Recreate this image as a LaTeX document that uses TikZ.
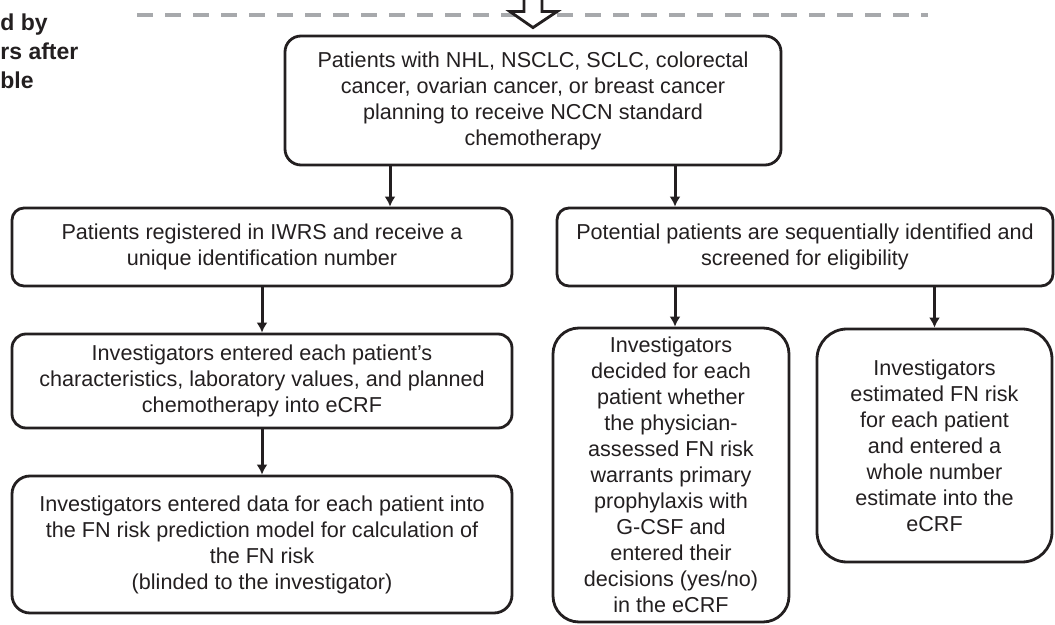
\documentclass[tikz,border=0pt]{standalone}
\usepackage{fontspec}
\setmainfont{Liberation Sans}
\usetikzlibrary{arrows.meta}
\definecolor{ink}{HTML}{231F20}
\definecolor{dashgray}{HTML}{A7A9AC}

\begin{document}
\begin{tikzpicture}[x=0.5pt, y=-0.5pt, >={Latex[length=5pt,width=5.5pt]},
	box/.style={draw=ink, line width=1.4pt, rounded corners=#1, align=center, text=ink, inner sep=0pt, font=\fontsize{10.8pt}{13pt}\selectfont},
	box/.default=6pt,
	arr/.style={->, draw=ink, line width=1.5pt}]
	\useasboundingbox (0,0) rectangle (1055,625);

	\node[anchor=west, align=left, inner sep=0pt, text=ink, font=\fontsize{11.5pt}{14.5pt}\selectfont\bfseries] (note) at (0,51) {d by\\rs after\\ble};

	\node[box=8pt, minimum width=248pt, minimum height=64.5pt] (top) at (533,100.5) {Patients with NHL, NSCLC, SCLC, colorectal\\cancer, ovarian cancer, or breast cancer\\planning to receive NCCN standard\\chemotherapy};

	\node[box=6pt, minimum width=250pt, minimum height=39pt] (reg) at (262,247) {Patients registered in IWRS and receive a\\unique identification number};
	\node[box=6pt, minimum width=248pt, minimum height=39pt] (pot) at (805,247) {Potential patients are sequentially identified and\\screened for eligibility};

	\node[box=7pt, minimum width=250pt, minimum height=47pt] (char) at (262,381) {Investigators entered each patient’s\\characteristics, laboratory values, and planned\\chemotherapy into eCRF};
	\node[box=9pt, minimum width=250pt, minimum height=68.5pt] (model) at (262,544.5) {Investigators entered data for each patient into\\the FN risk prediction model for calculation of\\the FN risk\\(blinded to the investigator)};

	\node[box=13pt, minimum width=118pt, minimum height=147pt] (decide) at (671,475) {Investigators\\decided for each\\patient whether\\the physician-\\assessed FN risk\\warrants primary\\prophylaxis with\\G-CSF and\\entered their\\decisions (yes/no)\\in the eCRF};
	\node[box=15pt, minimum width=117.5pt, minimum height=116.5pt] (estim) at (934.5,445.5) {Investigators\\estimated FN risk\\for each patient\\and entered a\\whole number\\estimate into the\\eCRF};

	\draw[dashgray, line width=2.2pt, dash pattern=on 8pt off 6pt] (137,15) -- (928,15);
	\coordinate (tip) at ([yshift=3.5pt]top.north);
	\draw[ink, line width=1.4pt, fill=white, line join=miter] (tip) -- ++(-23,-16) -- ++(14,0) -- ++(0,-23) -- ++(18,0) -- ++(0,23) -- ++(15,0) -- cycle;

	\coordinate (tl) at ([xshift=-71.5pt]top.south);
	\coordinate (tr) at ([xshift=71pt]top.south);
	\draw[arr] (tl) -- (tl |- reg.north);
	\draw[arr] (tr) -- (tr |- pot.north);
	\draw[arr] (reg.south) -- (char.north);
	\draw[arr] (char.south) -- (model.north);
	\draw[arr] (tr |- pot.south) -- (tr |- decide.north);
	\draw[arr] (pot.south -| estim.north) -- (estim.north);
\end{tikzpicture}
\end{document}
